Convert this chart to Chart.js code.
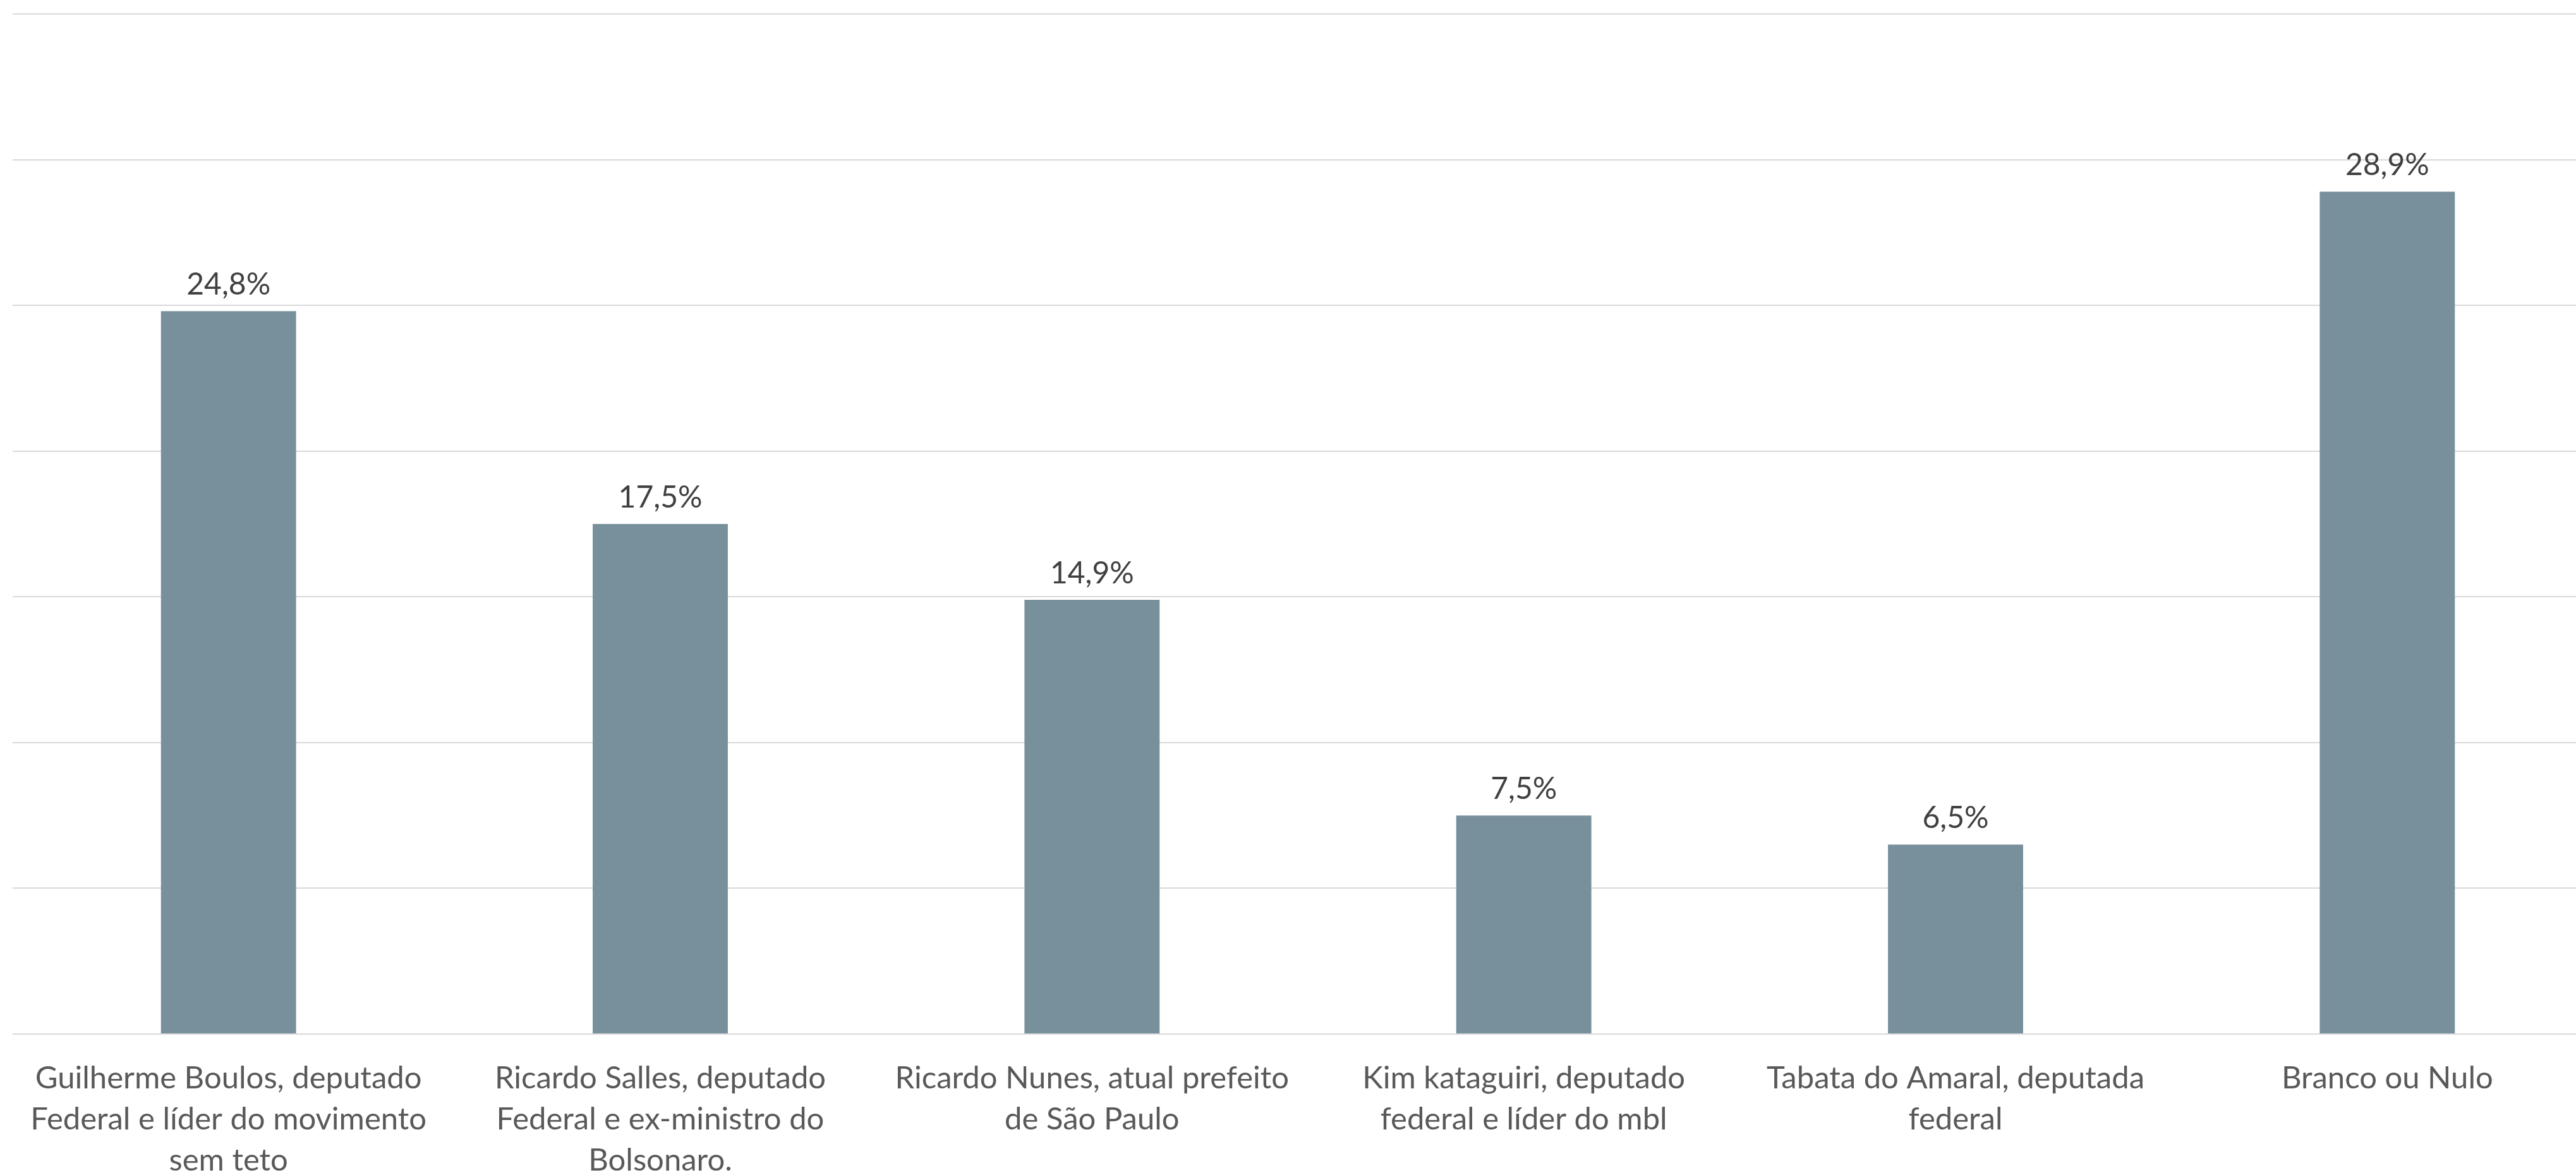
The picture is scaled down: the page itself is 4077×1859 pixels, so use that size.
<!DOCTYPE html>
<html>
<head>
<meta charset="utf-8">
<script src="https://cdn.jsdelivr.net/npm/chart.js@4/dist/chart.umd.min.js"></script>
<style>
    html, body { margin: 0; padding: 0; background: #fff; overflow: hidden; }
    .wrap { position: absolute; left: 0; top: 0; width: 4120px; height: 1859px; }
</style>
</head>
<body>
<div class="wrap">
    <canvas id="pollChart" width="4120" height="1859"></canvas>
</div>
<script>
// Categories (multi-line labels as on the original)
const categories = [
    ['Guilherme Boulos, deputado', 'Federal e líder do movimento', 'sem teto'],
    ['Ricardo Salles, deputado', 'Federal e ex-ministro do', 'Bolsonaro.'],
    ['Ricardo Nunes, atual prefeito', 'de São Paulo'],
    ['Kim kataguiri, deputado', 'federal e líder do mbl'],
    ['Tabata do Amaral, deputada', 'federal'],
    'Branco ou Nulo'
];

// Vote share in percent
const voteShare = [24.8, 17.5, 14.9, 7.5, 6.5, 28.9];

// Axis range
const yMax = 35;
const yStep = 5;

const barColor = '#78909C';

// Draws the "24,8%" style labels above each bar
const valueLabels = {
    id: 'valueLabels',
    afterDatasetsDraw(chart) {
        const ctx = chart.ctx;
        const meta = chart.getDatasetMeta(0);
        ctx.save();
        ctx.font = '48px Lato';
        ctx.fillStyle = '#404040';
        ctx.textAlign = 'center';
        ctx.textBaseline = 'alphabetic';
        meta.data.forEach((bar, i) => {
            const txt = voteShare[i].toFixed(1).replace('.', ',') + '%';
            ctx.fillText(txt, bar.x, bar.y - 26);
        });
        ctx.restore();
    }
};

const pollChart = new Chart(document.getElementById('pollChart').getContext('2d'), {
    type: 'bar',
    data: {
        labels: categories,
        datasets: [{
            data: voteShare,
            backgroundColor: barColor,
            borderWidth: 0,
            categoryPercentage: 1,
            barPercentage: 0.313
        }]
    },
    options: {
        responsive: false,
        animation: false,
        layout: { padding: { left: 20, right: 0, top: 22, bottom: 0 } },
        plugins: {
            legend: { display: false },
            tooltip: { enabled: false }
        },
        scales: {
            x: {
                grid: { display: false, drawTicks: false },
                border: { display: false },
                ticks: {
                    color: '#595959',
                    font: { family: 'Lato', size: 49, lineHeight: '65px' },
                    padding: 38,
                    maxRotation: 0,
                    autoSkip: false
                },
                afterFit: (scale) => { scale.height = 223; }
            },
            y: {
                min: 0,
                max: yMax,
                ticks: { display: false, stepSize: yStep },
                grid: { color: '#d9d9d9', lineWidth: 2, drawTicks: false },
                border: { display: false },
                afterFit: (scale) => { scale.width = 0; }
            }
        }
    },
    plugins: [valueLabels]
});
</script>
</body>
</html>
